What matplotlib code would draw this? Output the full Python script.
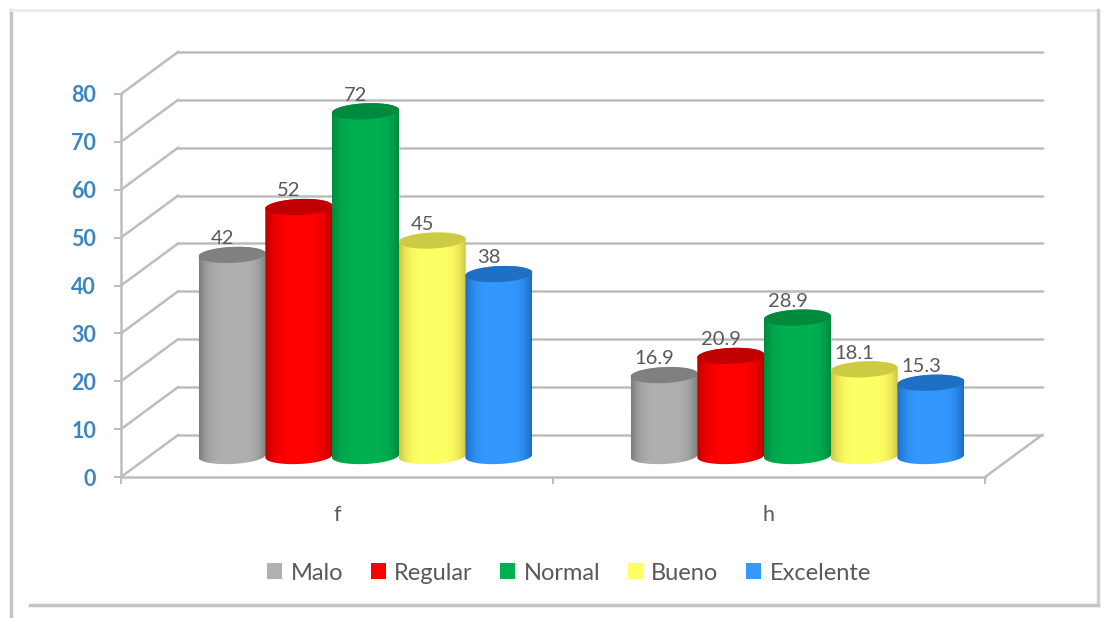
import numpy as np
import matplotlib
matplotlib.use('Agg')
import matplotlib.pyplot as plt
from matplotlib.lines import Line2D
from matplotlib.patches import Patch, Polygon

# Chart data
categories = ['f', 'h']
series_names = ['Malo', 'Regular', 'Normal', 'Bueno', 'Excelente']
malo = [42, 16.9]
regular = [52, 20.9]
normal = [72, 28.9]
bueno = [45, 18.1]
excelente = [38, 15.3]
value_ticks = [0, 10, 20, 30, 40, 50, 60, 70, 80]

series_values = [malo, regular, normal, bueno, excelente]

# Cylinder colours: centre of the body, shaded edge, top cap
body_colors = ['#b0b0b0', '#ff0000', '#00b050', '#ffff66', '#3399ff']
edge_colors = ['#7c7c7c', '#b80000', '#008a3e', '#cfc642', '#1c6cc0']
cap_colors = ['#808080', '#c00000', '#008a3e', '#cccc44', '#1f70c4']

W, H = 1110, 618
left_px, right_px = 121, 985
bottom_px, top_px = 477, 94

plt.rcParams['font.family'] = ['Lato', 'DejaVu Sans']

fig = plt.figure(figsize=(W / 100, H / 100), dpi=100)
ax = fig.add_axes([left_px / W, 1 - bottom_px / H,
                   (right_px - left_px) / W, (bottom_px - top_px) / H])

xscale = (right_px - left_px) / 2        # pixels per category
yscale = (bottom_px - top_px) / 80       # pixels per value unit

# Depth of the 3D box, in data units
depth_x = 57 / xscale
depth_y = 42 / yscale
grid_color = '#bdbdbd'
line_kw = dict(color=grid_color, lw=1.8, clip_on=False, zorder=1)

# Back wall and side wall lines
for v in value_ticks:
    ax.plot([-0.5, -0.5 + depth_x], [v, v + depth_y], **line_kw)
    ax.plot([-0.5 + depth_x, 1.5 + depth_x], [v + depth_y, v + depth_y], **line_kw)
ax.plot([1.5, 1.5 + depth_x], [0, depth_y], **line_kw)

# Cylinders
bar_step = 66.7 / xscale
half_w = 33.5 / xscale
cap_b = 8 / yscale
tilt = 1.5 / yscale
base = depth_y / 2


def ellipse(cx, cy, t):
    return (cx + half_w * np.cos(t), cy + cap_b * np.sin(t) + tilt * np.cos(t))


for i in range(len(series_names)):
    for j in range(len(categories)):
        cx = j + depth_x / 2 + (i - 2) * bar_step
        value = series_values[i][j]
        top = base + value

        t_low = np.linspace(np.pi, 2 * np.pi, 50)
        t_up = np.linspace(0, np.pi, 50)
        xb, yb = ellipse(cx, base, t_low)
        xt, yt = ellipse(cx, top, t_up)
        outline = np.column_stack([np.r_[xb, xt], np.r_[yb, yt]])

        # horizontal shading, clipped to the cylinder outline
        s = np.linspace(-1, 1, 60)
        mix = (np.abs(s) ** 4)[None, :, None]
        c1 = np.array(matplotlib.colors.to_rgb(body_colors[i]))
        c2 = np.array(matplotlib.colors.to_rgb(edge_colors[i]))
        shade = c1 * (1 - mix) + c2 * mix
        im = ax.imshow(shade, extent=[cx - half_w, cx + half_w, base - 3 * cap_b, top + 3 * cap_b],
                       aspect='auto', interpolation='bilinear', zorder=3 + i)
        clip = Polygon(outline, closed=True, transform=ax.transData, fc='none', ec='none')
        ax.add_patch(clip)
        im.set_clip_path(clip)

        xc, yc = ellipse(cx, top, np.linspace(0, 2 * np.pi, 100))
        ax.fill(xc, yc, color=cap_colors[i], lw=0, zorder=3 + i)

        ax.annotate(str(value), (cx, top), xytext=(-7.2, 11.6), textcoords='offset points',
                    ha='center', va='center', fontsize=14.5, color='#595959', zorder=20,
                    annotation_clip=False)

ax.set_xlim(-0.5, 1.5)
ax.set_ylim(0, 80)

# Axes and ticks
for side in ['top', 'right']:
    ax.spines[side].set_visible(False)
for side in ['left', 'bottom']:
    ax.spines[side].set_color(grid_color)
    ax.spines[side].set_linewidth(1.8)
ax.patch.set_alpha(0)

ax.set_yticks(value_ticks)
ax.tick_params(axis='y', length=5, width=1.4, color=grid_color, pad=13,
               labelsize=15.5, labelcolor='#3a86c4')
for label in ax.get_yticklabels():
    label.set_fontweight('bold')

ax.set_xticks([-0.5, 0.5, 1.5])
ax.set_xticklabels([])
ax.set_xticks(range(len(categories)), categories, minor=True)
ax.tick_params(axis='x', which='major', length=5, width=1.4, color=grid_color)
ax.tick_params(axis='x', which='minor', length=0, pad=20.5, labelsize=15.5, labelcolor='#595959')

# Legend along the bottom
handles = [Patch(facecolor=c, edgecolor='none', label=n) for c, n in zip(body_colors, series_names)]
ax.legend(handles=handles, loc='center', bbox_to_anchor=(569 / W, 1 - 573 / H),
          bbox_transform=fig.transFigure, ncol=5, frameon=False, fontsize=17,
          labelcolor='#595959', handlelength=0.65, handleheight=0.65,
          handletextpad=0.35, columnspacing=1.16, borderpad=0)

# Outer frame of the chart
frame = [((11, 11), (10, 618), '#c4c4c4', 2.5),
         ((11, 1098), (10, 10), '#ececec', 2),
         ((1098, 1098), (10, 605), '#cfcfcf', 2.5),
         ((30, 1098), (605, 605), '#c4c4c4', 2.5)]
for xs, ys, color, lw in frame:
    fig.add_artist(Line2D([x / W for x in xs], [1 - y / H for y in ys],
                          color=color, lw=lw, transform=fig.transFigure))

fig.savefig('out.png', dpi=100)
